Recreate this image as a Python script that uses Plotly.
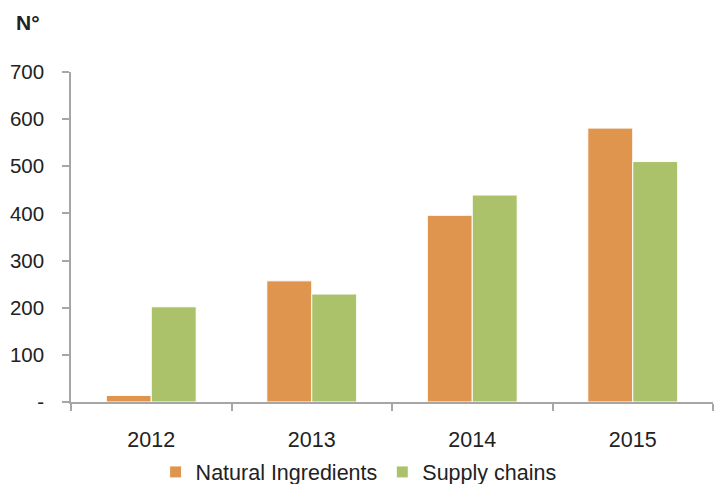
import plotly.graph_objects as go

years = ["2012", "2013", "2014", "2015"]
natural_ingredients = [14, 257, 396, 581]
supply_chains = [202, 229, 439, 510]
y_ticks = [0, 100, 200, 300, 400, 500, 600, 700]
y_tick_labels = ["-", "100", "200", "300", "400", "500", "600", "700"]

FONT = "Liberation Sans, Arial, sans-serif"

fig = go.Figure()
fig.add_trace(go.Bar(x=years, y=natural_ingredients, name="Natural Ingredients",
                     marker=dict(color="#DF954D", line=dict(color="white", width=1))))
fig.add_trace(go.Bar(x=years, y=supply_chains, name="Supply chains",
                     marker=dict(color="#ABC26A", line=dict(color="white", width=1))))

fig.update_layout(
    width=716, height=484,
    margin=dict(l=71, r=3, t=72, b=82, autoexpand=False),
    paper_bgcolor="white", plot_bgcolor="white",
    barmode="group", bargap=0.44, bargroupgap=0.0,
    font=dict(family=FONT, size=21, color="#222222"),
    showlegend=True,
    legend=dict(orientation="h", x=0.448, xanchor="center", y=-0.212, yanchor="middle",
                font=dict(size=21.5, color="#222222"), itemwidth=30, traceorder="normal",
                tracegroupgap=0),
    annotations=[dict(text="<b>N°</b>", xref="paper", yref="paper", x=-0.067, y=1.1515,
                      xanchor="center", yanchor="middle", showarrow=False,
                      font=dict(size=21, color="#222222"))],
)
fig.update_xaxes(showline=True, linecolor="#A6A6A6", linewidth=1.5,
                 ticks="outside", tickson="boundaries", ticklen=7, tickcolor="#A6A6A6",
                 tickwidth=1.5, showgrid=False, tickfont=dict(size=21.5), ticklabelstandoff=17)
fig.update_yaxes(range=[0, 700], tickvals=y_ticks, ticktext=y_tick_labels,
                 showline=True, linecolor="#A6A6A6", linewidth=1.5,
                 ticks="outside", ticklen=7, tickcolor="#A6A6A6", tickwidth=1.5,
                 showgrid=False, zeroline=False, tickfont=dict(size=20.5),
                 ticklabelstandoff=14)

fig.write_html("out.html")
